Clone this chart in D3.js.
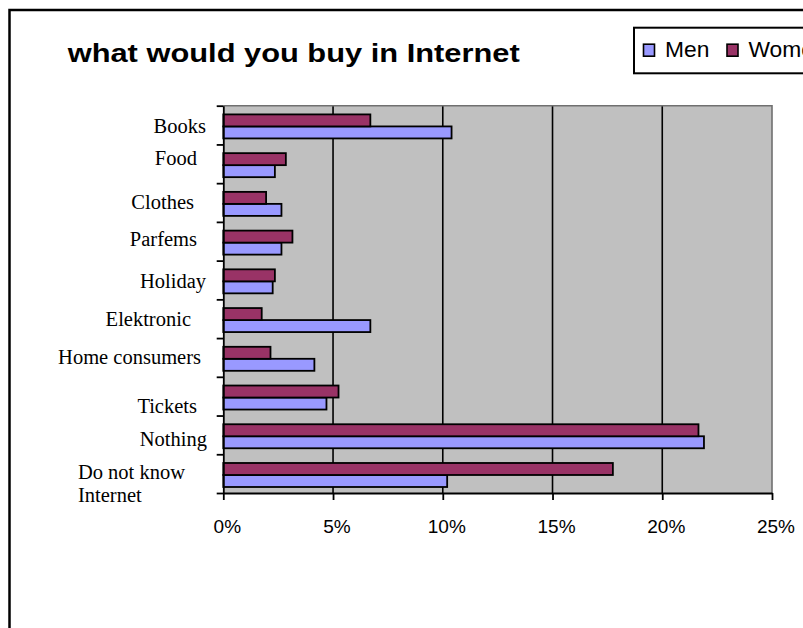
<!DOCTYPE html>
<html>
<head>
<meta charset="utf-8">
<script src="https://cdn.jsdelivr.net/npm/d3@7"></script>
<style>
  html, body { margin: 0; padding: 0; background: #fff; }
  svg { display: block; }
</style>
</head>
<body>
<svg id="chart" width="803" height="628"></svg>
<script>
// ---- data ----
const categories = ["Books", "Food", "Clothes", "Parfems", "Holiday", "Elektronic",
                    "Home consumers", "Tickets", "Nothing", "Do not know\nInternet"];
const seriesNames = ["Men", "Women"];
const men   = [10.4, 2.35, 2.65, 2.65, 2.25, 6.7, 4.15, 4.7, 21.9, 10.2];
const women = [6.7, 2.85, 1.95, 3.15, 2.35, 1.75, 2.15, 5.25, 21.65, 17.75];
const xTicks = [0, 5, 10, 15, 20, 25];
const xTickLabels = ["0%", "5%", "10%", "15%", "20%", "25%"];
const titleText = "what would you buy in Internet";

// ---- layout ----
const plot = { left: 223.3, right: 772, top: 105.7, bottom: 493 };
const labelRight = 206;
// per-label [dx, baseline offset from band centre]
const labelOffset = [[0, 8], [-9, 1], [-12, 6], [-9, 5], [0, 8], [-15, 7],
                     [-5, 7], [-9, 17], [1, 11], [-21, 5]];
const colors = { Men: "#9999FF", Women: "#993366" };
const sansFont = "'Liberation Sans', Arial, sans-serif";
const serifFont = "'Liberation Serif', 'Times New Roman', serif";

const svg = d3.select("#chart");

// outer chart frame
svg.append("rect")
  .attr("x", 9.5).attr("y", 10).attr("width", 1000).attr("height", 800)
  .attr("fill", "#fff").attr("stroke", "#000").attr("stroke-width", 2.5);

// title
svg.append("text")
  .attr("x", 67.7).attr("y", 62.3)
  .attr("font-family", sansFont).attr("font-weight", "bold").attr("font-size", 25.8)
  .attr("textLength", 452).attr("lengthAdjust", "spacingAndGlyphs")
  .text(titleText);

// scales
const x = d3.scaleLinear().domain([0, 25]).range([plot.left, plot.right]);
const y = d3.scaleBand().domain(categories).range([plot.top, plot.bottom]).padding(0);
const bw = y.bandwidth();
const y1 = d3.scaleBand().domain(["Women", "Men"]).range([bw * 0.225, bw * 0.845]);
const yEdges = d3.scaleLinear().domain([0, categories.length]).range([plot.top, plot.bottom]);

// plot background
svg.append("rect")
  .attr("x", plot.left).attr("y", plot.top)
  .attr("width", plot.right - plot.left).attr("height", plot.bottom - plot.top)
  .attr("fill", "#C0C0C0");

// vertical gridlines
svg.append("g").selectAll("line")
  .data(xTicks.filter(d => d > 0 && d < 25))
  .join("line")
  .attr("x1", d => x(d)).attr("x2", d => x(d))
  .attr("y1", plot.top).attr("y2", plot.bottom)
  .attr("stroke", "#000").attr("stroke-width", 1.6);

// plot border (top and right)
svg.append("path")
  .attr("d", `M${plot.left},${plot.top}H${plot.right}V${plot.bottom}`)
  .attr("fill", "none").attr("stroke", "#707070").attr("stroke-width", 1.6);

// bars
const rows = categories.map((c, i) => ({ cat: c, Men: men[i], Women: women[i] }));
const groups = svg.append("g").selectAll("g")
  .data(rows).join("g")
  .attr("transform", d => `translate(0,${y(d.cat)})`);
groups.selectAll("rect")
  .data(d => seriesNames.map(s => ({ s, v: d[s] })))
  .join("rect")
  .attr("x", x(0))
  .attr("y", d => y1(d.s))
  .attr("width", d => x(d.v) - x(0))
  .attr("height", y1.bandwidth())
  .attr("fill", d => colors[d.s])
  .attr("stroke", "#000").attr("stroke-width", 1.8);

// y axis: ticks at category boundaries
const yAxis = svg.append("g")
  .attr("transform", `translate(${plot.left},0)`)
  .call(d3.axisLeft(yEdges).tickValues(d3.range(categories.length + 1))
    .tickFormat("").tickSizeInner(6.6).tickSizeOuter(0));
yAxis.selectAll("line,path").attr("stroke", "#000").attr("stroke-width", 1.8);

// x axis
const xAxis = svg.append("g")
  .attr("transform", `translate(0,${plot.bottom})`)
  .call(d3.axisBottom(x).tickValues(xTicks).tickSizeInner(7).tickSizeOuter(0)
    .tickFormat((d, i) => xTickLabels[i]));
xAxis.selectAll("line,path").attr("stroke", "#000").attr("stroke-width", 1.8);
xAxis.selectAll("text")
  .attr("y", 40.3).attr("dy", 0).attr("dx", 3.5)
  .attr("fill", "#000")
  .attr("font-family", sansFont).attr("font-size", 19);

// category labels
const labelG = svg.append("g")
  .attr("font-family", serifFont).attr("font-size", 20.5).attr("fill", "#000");
categories.forEach((c, i) => {
  const lines = c.split("\n");
  const [dx, dy] = labelOffset[i];
  const cy = y(c) + bw / 2 + dy;
  const t = labelG.append("text").attr("y", cy);
  lines.forEach((ln, j) => {
    t.append("tspan").attr("y", cy + j * 23.3).text(ln);
  });
  if (lines.length === 1) {
    t.attr("text-anchor", "end").attr("x", labelRight + dx);
    t.selectAll("tspan").attr("x", labelRight + dx);
  } else {
    let maxW = 0;
    t.selectAll("tspan").each(function () {
      maxW = Math.max(maxW, this.getComputedTextLength());
    });
    const left = labelRight + dx - maxW;
    t.attr("text-anchor", "start");
    t.selectAll("tspan").attr("x", left);
  }
});

// legend (runs past the right edge of the chart area)
const legend = svg.append("g");
legend.append("rect")
  .attr("x", 634).attr("y", 27.7).attr("width", 400).attr("height", 45.6)
  .attr("fill", "#fff").attr("stroke", "#000").attr("stroke-width", 2);
const legendX = { Men: 643.5, Women: 727 };
seriesNames.forEach(s => {
  legend.append("rect")
    .attr("x", legendX[s]).attr("y", 44.2).attr("width", 11).attr("height", 12)
    .attr("fill", colors[s]).attr("stroke", "#000").attr("stroke-width", 1.6);
  legend.append("text")
    .attr("x", legendX[s] + 21.5).attr("y", 56.9)
    .attr("font-family", sansFont).attr("font-size", 22.8).attr("fill", "#000")
    .text(s);
});
</script>
</body>
</html>
